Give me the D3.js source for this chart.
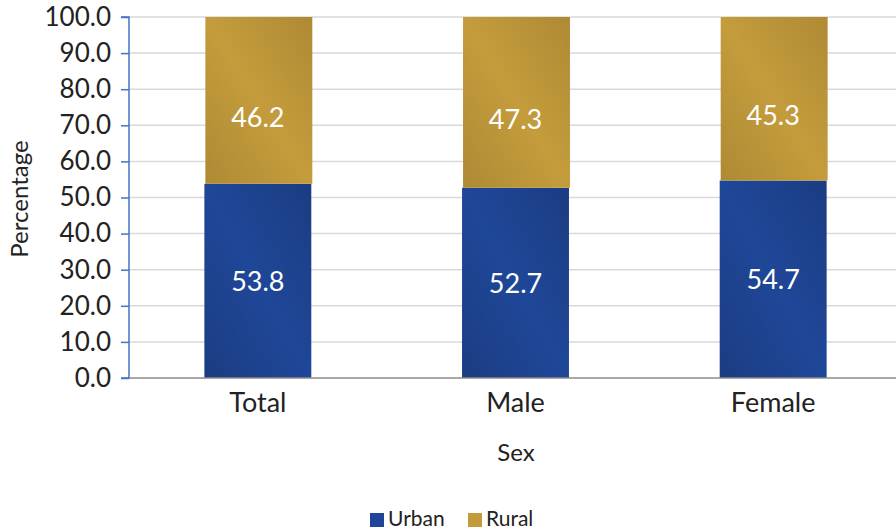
<!DOCTYPE html>
<html><head><meta charset="utf-8">
<script src="https://cdn.jsdelivr.net/npm/d3@7"></script>
<style>body{margin:0;background:#fff}svg{display:block}text{font-family:Lato,"Open Sans","Liberation Sans",sans-serif}</style>
</head><body>
<svg id="c" width="896" height="531"></svg>
<script>
const categories = ["Total", "Male", "Female"];
const urban = [53.8, 52.7, 54.7];
const rural = [46.2, 47.3, 45.3];
const seriesNames = ["Urban", "Rural"];
const yTicks = [0,10,20,30,40,50,60,70,80,90,100];

const svg = d3.select("#c");
const W = 896, H = 531;
const m = {l:129, t:17, r:-6, b:153};
const x = d3.scaleBand().domain(categories).range([m.l, W - m.r]).paddingInner(0.585).paddingOuter(0.2925);
const y = d3.scaleLinear().domain([0,100]).range([378, 17]);

const defs = svg.append("defs");
function grad(id, c1, c2){
  const g = defs.append("linearGradient").attr("id", id).attr("x1","0").attr("y1","1").attr("x2","1").attr("y2","0");
  g.append("stop").attr("offset","0").attr("stop-color",c2);
  g.append("stop").attr("offset","0.5").attr("stop-color",c1);
  g.append("stop").attr("offset","1").attr("stop-color",c2);
}
grad("gb", "#1F4798", "#1B3C82");
grad("gg", "#C49C3C", "#AE8A34");
const colors = ["url(#gb)", "url(#gg)"];
const legendColors = ["#1F4598", "#C39B3B"];

// gridlines
svg.append("g").selectAll("line").data(yTicks.filter(d=>d>0)).join("line")
  .attr("x1", m.l).attr("x2", W).attr("y1", d=>y(d)).attr("y2", d=>y(d))
  .attr("stroke", "#D9D9D9").attr("stroke-width", 1.5);

// stacked data
const data = categories.map((c,i)=>({cat:c, Urban:urban[i], Rural:rural[i]}));
const stack = d3.stack().keys(seriesNames)(data);

const labelFrac = [0.5, 0.4];
const bars = svg.append("g");
stack.forEach((s, si) => {
  bars.append("g").selectAll("rect").data(s).join("rect")
    .attr("x", d => x(d.data.cat) + (si===1?1:0))
    .attr("width", x.bandwidth())
    .attr("y", d => y(d[1]))
    .attr("height", d => y(d[0]) - y(d[1]))
    .attr("fill", colors[si]);
  bars.append("g").selectAll("text").data(s).join("text")
    .attr("x", d => x(d.data.cat) + x.bandwidth()/2)
    .attr("y", d => y(d[0] + (d[1]-d[0])*labelFrac[si]))
    .attr("dy", "0.36em")
    .attr("text-anchor", "middle")
    .attr("fill", "#fff").attr("font-size", 27)
    .text(d => (d[1]-d[0]).toFixed(1));
});

// y axis
const ya = svg.append("g").attr("transform", `translate(${m.l},0)`)
  .call(d3.axisLeft(y).tickValues(yTicks).tickFormat(d3.format(".1f")).tickSize(8).tickPadding(10));
ya.select(".domain").attr("stroke", "#4472C4").attr("stroke-width", 1.5).attr("d", `M-8,${y(100)}H0V${y(0)}H-8`);
ya.selectAll(".tick line").attr("stroke", "#4472C4").attr("stroke-width", 1.5);
ya.selectAll(".tick text").attr("font-size", 26).attr("fill", "#222");

// x baseline
svg.append("line").attr("x1", m.l).attr("x2", W).attr("y1", y(0)).attr("y2", y(0)).attr("stroke", "#8C8C8C").attr("stroke-width", 1.5);

// x labels
const xa = svg.append("g").attr("transform", `translate(0,${y(0)})`)
  .call(d3.axisBottom(x).tickSize(0).tickPadding(15));
xa.select(".domain").remove();
xa.selectAll(".tick text").attr("font-size", 27).attr("fill", "#222");

// axis titles
svg.append("text").attr("x", 516).attr("y", 461).attr("text-anchor","middle").attr("font-size", 24).attr("fill","#222").text("Sex");
svg.append("text").attr("transform", "translate(28,199) rotate(-90)").attr("text-anchor","middle").attr("font-size", 24).attr("fill","#222").text("Percentage");

// legend
const lg = svg.append("g");
const lx = [370, 468];
seriesNames.forEach((n,i)=>{
  lg.append("rect").attr("x", lx[i]).attr("y", 513).attr("width", 14).attr("height", 14).attr("fill", legendColors[i]);
  lg.append("text").attr("x", lx[i]+18).attr("y", 526).attr("font-size", 21).attr("fill","#222").text(n);
});
</script>
</body></html>
